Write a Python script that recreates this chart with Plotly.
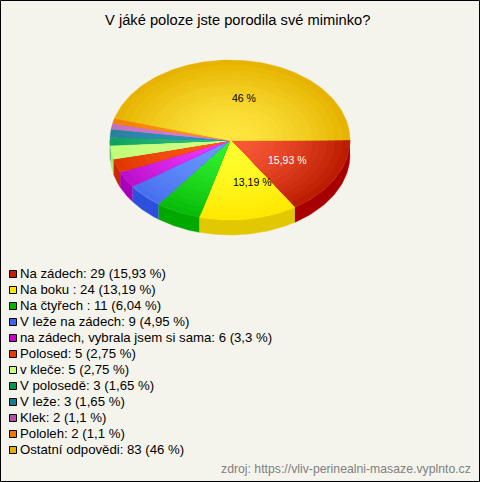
import numpy as np
import plotly.graph_objects as go

W, H = 480, 482
BG = "#F5F4EC"

categories = ["Na zádech", "Na boku ", "Na čtyřech ", "V leže na zádech",
              "na zádech, vybrala jsem si sama", "Polosed", "v kleče", "V polosedě",
              "V leže", "Klek", "Pololeh", "Ostatní odpovědi"]
counts = [29, 24, 11, 9, 6, 5, 5, 3, 3, 2, 2, 83]
pct_labels = ["15,93", "13,19", "6,04", "4,95", "3,3", "2,75", "2,75", "1,65", "1,65", "1,1", "1,1", "46"]

# colours: centre of the top face, rim of the top face, side wall, legend swatch
inner = ["#FA5A38", "#FFFF30", "#30F030", "#6A98FF", "#F038FF", "#FF5A18", "#D0FF88", "#30C080",
         "#3098B8", "#D880D8", "#FF9820", "#FFE640"]
outer = ["#BC1C00", "#FFE800", "#08BC08", "#4870F0", "#BC10CC", "#E03800", "#C0FF78", "#10A060",
         "#2880A0", "#C070C0", "#F08000", "#E6B400"]
side = ["#A80000", "#E2C800", "#00A800", "#2C50DC", "#A800B8", "#C82800", "#A8E870", "#088850",
        "#186888", "#A050A0", "#D06800", "#C89800"]
swatch = ["#C81E00", "#FFE600", "#00B400", "#3C64F0", "#C800C8", "#E63C00", "#C8FF78", "#00964F",
          "#147D96", "#B450AA", "#F07800", "#E6AF00"]
label_text_colors = {0: "white", 1: "black", 11: "black"}
label_dx = {0: 2, 1: 13, 11: 5}

CX, CY, RX, RY, DEPTH = 230, 140, 120, 80, 15
BANDS = 16

fractions = np.array(counts) / sum(counts)
edges = np.concatenate([[0], np.cumsum(fractions)]) * 2 * np.pi


def hex_rgb(h):
    return np.array([int(h[i:i + 2], 16) for i in (1, 3, 5)], dtype=float)


def mix(a, b, t):
    c = hex_rgb(a) * (1 - t) + hex_rgb(b) * t
    return "rgb(%d,%d,%d)" % tuple(c.round())


def poly(x, y, color):
    return go.Scatter(x=x, y=y, mode="lines", fill="toself", fillcolor=color,
                      line=dict(width=0.4, color=color), hoverinfo="skip", showlegend=False)


fig = go.Figure()

# side wall, only the part of each slice that faces the viewer
for i in range(len(counts)):
    a0, a1 = edges[i], min(edges[i + 1], np.pi)
    if a0 >= np.pi:
        continue
    t = np.linspace(a0, a1, 40)
    xs = CX + RX * np.cos(t)
    ys = CY + RY * np.sin(t)
    fig.add_trace(poly(np.r_[xs, xs[::-1]], np.r_[ys, ys[::-1] + DEPTH], side[i]))

# top face, radial shading as nested sectors
for i in range(len(counts)):
    n = max(12, int((edges[i + 1] - edges[i]) * 40))
    t = np.linspace(edges[i], edges[i + 1], n)
    for b in range(BANDS):
        k = 1 - b / BANDS
        xs = CX + RX * k * np.cos(t)
        ys = CY + RY * k * np.sin(t)
        fig.add_trace(poly(np.r_[CX, xs, CX], np.r_[CY, ys, CY], mix(inner[i], outer[i], k ** 1.6)))

# slice labels
for i, col in label_text_colors.items():
    mid = (edges[i] + edges[i + 1]) / 2
    fig.add_annotation(x=CX + RX * 0.53 * np.cos(mid) + label_dx[i], y=CY + RY * 0.53 * np.sin(mid),
                       text=pct_labels[i] + " %", showarrow=False,
                       font=dict(family="Liberation Sans", size=10.5, color=col))

# legend
LEG_Y, LEG_STEP = 274, 16
for i, (c, n, p) in enumerate(zip(categories, counts, pct_labels)):
    y = LEG_Y + i * LEG_STEP
    fig.add_shape(type="rect", x0=9.5, x1=16.5, y0=y - 3.5, y1=y + 3.5, fillcolor=swatch[i],
                  line=dict(color="black", width=1), layer="above")
    fig.add_annotation(x=20, y=y - 0.5, text=f"{c}: {n} ({p} %)", showarrow=False, xanchor="left",
                       xshift=-2, font=dict(family="Liberation Sans", size=13.2, color="black"))

fig.add_annotation(x=237, y=20, text="V jáké poloze jste porodila své miminko?", showarrow=False,
                   font=dict(family="Liberation Sans", size=14.7, color="black"))
fig.add_annotation(x=470, y=469, text="zdroj: https://vliv-perinealni-masaze.vyplnto.cz", showarrow=False,
                   xanchor="right", xshift=3, font=dict(family="Liberation Sans", size=12.25, color="#808080"))

fig.add_shape(type="rect", x0=0.5, x1=W - 0.5, y0=0.5, y1=H - 0.5, line=dict(color="black", width=1))

fig.update_layout(
    width=W, height=H, margin=dict(l=0, r=0, t=0, b=0), paper_bgcolor=BG, plot_bgcolor=BG,
    showlegend=False,
    xaxis=dict(range=[0, W], visible=False, fixedrange=True),
    yaxis=dict(range=[H, 0], visible=False, fixedrange=True),
)
fig.write_html("out.html", config={"displayModeBar": False},
               post_script="document.body.style.margin='0';document.body.style.overflow='hidden';")
